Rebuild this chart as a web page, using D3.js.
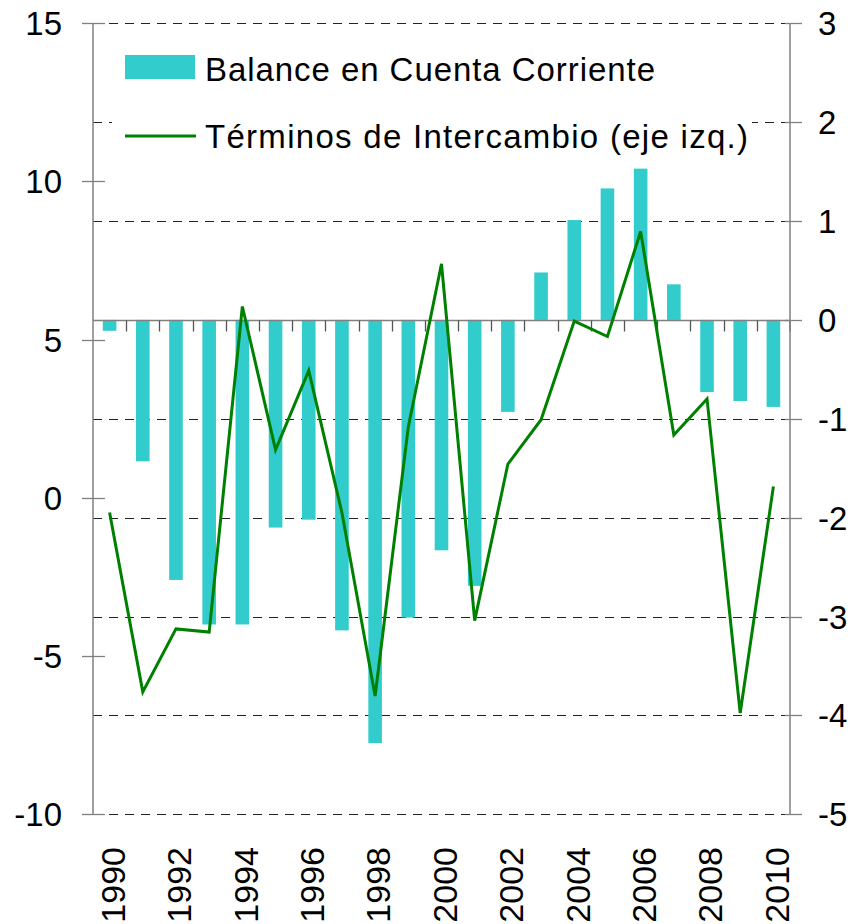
<!DOCTYPE html>
<html>
<head>
<meta charset="utf-8">
<script src="https://cdn.jsdelivr.net/npm/d3@7"></script>
<style>
  body { margin: 0; background: #fff; }
  svg { display: block; font-family: "Liberation Sans", Arial, sans-serif; }
</style>
</head>
<body>
<svg id="chart" width="850" height="924"></svg>
<script>
/* Data */
var years = [1990, 1991, 1992, 1993, 1994, 1995, 1996, 1997, 1998, 1999, 2000,
  2001, 2002, 2003, 2004, 2005, 2006, 2007, 2008, 2009, 2010];

// Balance en cuenta corriente (eje der.)
var balance = [-0.11, -1.43, -2.63, -3.08, -3.08, -2.10, -2.02, -3.14, -4.28, -3.01, -2.33,
  -2.69, -0.93, 0.48, 1.01, 1.33, 1.53, 0.36, -0.73, -0.82, -0.88];

// Terminos de intercambio (eje izq.)
var terminos = [-0.46, -6.13, -4.14, -4.24, 6.05, 1.52, 4.02, -0.47, -6.26, 2.24, 7.40,
  -3.88, 1.07, 2.47, 5.59, 5.10, 8.42, 1.99, 3.13, -6.80, 0.36];

var leftTicks = [-10, -5, 0, 5, 10, 15];
var rightTicks = [-5, -4, -3, -2, -1, 0, 1, 2, 3];
var yearLabels = [1990, 1992, 1994, 1996, 1998, 2000, 2002, 2004, 2006, 2008, 2010];

var legendItems = ["Balance en Cuenta Corriente", "Términos de Intercambio (eje izq.)"];

/* Scales */
var plotLeft = 93, plotRight = 790, plotTop = 23.3, plotBottom = 814.3;

var x = d3.scaleBand()
  .domain(years)
  .range([plotLeft, plotRight]);

var yLeft = d3.scaleLinear()
  .domain([-10, 15])
  .range([plotBottom, plotTop]);

var yRight = d3.scaleLinear()
  .domain([-5, 3])
  .range([plotBottom, plotTop]);

var svg = d3.select("svg#chart");

// dashed gridlines (right axis ticks, except zero)
svg.append("g")
  .selectAll("line")
  .data(rightTicks.filter(d => d !== 0))
  .enter()
  .append("line")
  .attr("x1", plotLeft)
  .attr("x2", plotRight + 12)
  .attr("y1", d => Math.round(yRight(d)) + 0.5)
  .attr("y2", d => Math.round(yRight(d)) + 0.5)
  .attr("stroke", "#222")
  .attr("stroke-width", 1)
  .attr("stroke-dasharray", "9,7");

// legend background hides part of the gridline
svg.append("rect")
  .attr("x", 112)
  .attr("y", 36)
  .attr("width", 640)
  .attr("height", 128)
  .attr("fill", "#fff");

/* Bars */
var barW = x.bandwidth() * 0.41;
svg.append("g")
  .selectAll("rect")
  .data(years)
  .enter()
  .append("rect")
  .attr("x", (d) => x(d) + (x.bandwidth() - barW) / 2)
  .attr("width", barW)
  .attr("y", (d, i) => yRight(Math.max(0, balance[i])))
  .attr("height", (d, i) => Math.abs(yRight(balance[i]) - yRight(0)))
  .attr("fill", "#33CCCC");

// zero line with category ticks
var y0 = Math.round(yRight(0)) + 0.5;
svg.append("line")
  .attr("x1", plotLeft).attr("x2", plotRight)
  .attr("y1", y0).attr("y2", y0)
  .attr("stroke", "#808080")
  .attr("stroke-width", 1.5);

svg.append("g")
  .selectAll("line")
  .data(years.slice(1).concat(["end"]))
  .enter()
  .append("line")
  .attr("x1", d => d === "end" ? plotRight : Math.round(x(d)) + 0.5)
  .attr("x2", d => d === "end" ? plotRight : Math.round(x(d)) + 0.5)
  .attr("y1", y0)
  .attr("y2", y0 + 11)
  .attr("stroke", "#555")
  .attr("stroke-width", 1.3);

/* Line */
var line = d3.line()
  .x((d, i) => x(years[i]) + x.bandwidth() / 2)
  .y(d => yLeft(d));

svg.append("path")
  .datum(terminos)
  .attr("d", line)
  .attr("fill", "none")
  .attr("stroke", "#008000")
  .attr("stroke-width", 3)
  .attr("stroke-linejoin", "miter");

/* Axes */
svg.append("line")
  .attr("x1", plotLeft).attr("x2", plotLeft)
  .attr("y1", plotTop).attr("y2", plotBottom)
  .attr("stroke", "#808080").attr("stroke-width", 1.5);

svg.append("line")
  .attr("x1", plotRight).attr("x2", plotRight)
  .attr("y1", plotTop).attr("y2", plotBottom)
  .attr("stroke", "#808080").attr("stroke-width", 1.5);

var lt = svg.append("g").selectAll("g")
  .data(leftTicks)
  .enter()
  .append("g")
  .attr("transform", d => `translate(0,${Math.round(yLeft(d)) + 0.5})`);

lt.append("line")
  .attr("x1", plotLeft - 11).attr("x2", plotLeft + 12)
  .attr("stroke", "#808080").attr("stroke-width", 1.3);

lt.append("text")
  .attr("x", 62)
  .attr("dy", "0.36em")
  .attr("text-anchor", "end")
  .attr("font-size", 33)
  .attr("fill", "#000")
  .text(d => d);

var rt = svg.append("g").selectAll("g")
  .data(rightTicks)
  .enter()
  .append("g")
  .attr("transform", d => `translate(0,${Math.round(yRight(d)) + 0.5})`);

rt.append("line")
  .attr("x1", plotRight - 5).attr("x2", plotRight + 12)
  .attr("stroke", "#808080").attr("stroke-width", 1.3);

rt.append("text")
  .attr("x", 818)
  .attr("dy", "0.36em")
  .attr("font-size", 33)
  .attr("fill", "#000")
  .text(d => d);

// year labels, rotated
svg.append("g")
  .selectAll("text")
  .data(yearLabels)
  .enter()
  .append("text")
  .attr("transform", d => `translate(${x(d) + x.bandwidth() / 2 + 3},847) rotate(-90)`)
  .attr("text-anchor", "end")
  .attr("dy", "0.36em")
  .attr("font-size", 34)
  .attr("fill", "#000")
  .text(d => d);

/* Legend */
svg.append("rect")
  .attr("x", 125).attr("y", 55)
  .attr("width", 70).attr("height", 24)
  .attr("fill", "#33CCCC");

svg.append("line")
  .attr("x1", 125).attr("x2", 196)
  .attr("y1", 136).attr("y2", 136)
  .attr("stroke", "#008000")
  .attr("stroke-width", 3);

var legendWidths = [450, 543];
svg.append("g")
  .selectAll("text")
  .data(legendItems)
  .enter()
  .append("text")
  .attr("x", 205)
  .attr("y", (d, i) => i === 0 ? 81 : 148)
  .attr("font-size", 33)
  .attr("textLength", (d, i) => legendWidths[i])
  .attr("lengthAdjust", "spacing")
  .attr("fill", "#000")
  .text(d => d);
</script>
</body>
</html>
